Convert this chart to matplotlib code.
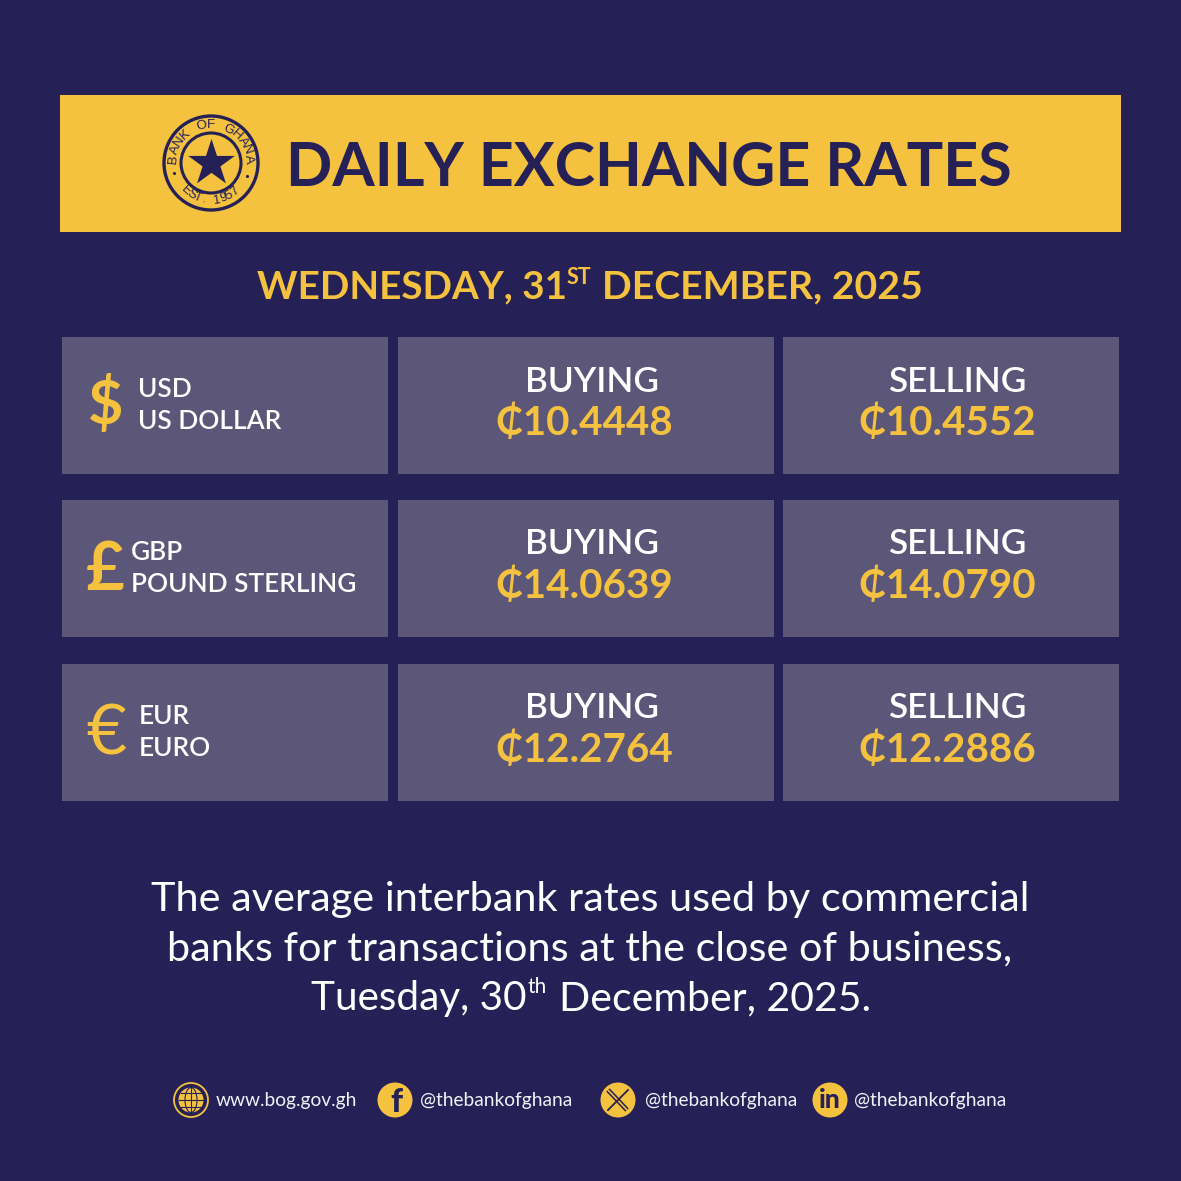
import numpy as np
import matplotlib
matplotlib.use("Agg")
import matplotlib.pyplot as plt
from matplotlib.patches import Rectangle, Circle, Ellipse

BG = "#252157"
YELLOW = "#F4C23F"
PANEL = "#5C5779"
WHITE = "#FFFFFF"
FONT = ["Lato", "DejaVu Sans"]

codes = ["USD", "GBP", "EUR"]
names = ["US DOLLAR", "POUND STERLING", "EURO"]
symbols = ["$", "£", "€"]
buying = ["10.4448", "14.0639", "12.2764"]
selling = ["10.4552", "14.0790", "12.2886"]
handles = ["www.bog.gov.gh", "@thebankofghana", "@thebankofghana", "@thebankofghana"]

row_tops = [337, 500, 664]
symbol_x = [106, 105, 106]
symbol_y = [63, 65, 65]
symbol_size = [44, 48, 50]
symbol_weight = ["bold", "bold", "normal"]
label_x = [138, 131, 139]

fig = plt.figure(figsize=(11.81, 11.81), dpi=100, facecolor=BG)
ax = fig.add_axes([0, 0, 1, 1])
ax.set_xlim(0, 1181)
ax.set_ylim(1181, 0)
ax.axis("off")


def put(x, y, s, size, color=WHITE, weight="normal", ha="left", **kw):
    return ax.text(x, y, s, fontsize=size, color=color, fontweight=weight, ha=ha,
                   va="center_baseline", family=FONT, **kw)


# header band and logo
ax.add_patch(Rectangle((60, 95), 1061, 137, fc=YELLOW, ec="none"))
ax.add_patch(Circle((211, 163), 47, fc="none", ec=BG, lw=2.4))
ax.add_patch(Circle((211, 163), 30, fc="none", ec=BG, lw=2.2))
ax.scatter([211], [163], marker="*", s=1250, color=BG, linewidths=0, zorder=3)
for ch, a in zip("BANK OF GHANA", np.linspace(174, 6, 13)):
    rad = np.deg2rad(a)
    ax.text(211 + 38 * np.cos(rad), 163 - 38 * np.sin(rad), ch, fontsize=9.6, color=BG, ha="center",
            va="center", rotation=a - 90, rotation_mode="anchor", family="Liberation Sans")
for ch, a in zip("EST. 1957", np.linspace(228, 310, 9)):
    rad = np.deg2rad(a)
    ax.text(211 + 37.5 * np.cos(rad), 163 - 37.5 * np.sin(rad), ch, fontsize=9.2, color=BG, ha="center",
            va="center", rotation=a + 90, rotation_mode="anchor", family="Liberation Sans")
for a in (195, 340):
    ax.scatter([211 + 38 * np.cos(np.deg2rad(a))], [163 - 38 * np.sin(np.deg2rad(a))], s=5, color=BG, linewidths=0)

put(286, 162.5, "DAILY EXCHANGE RATES", 43.9, BG, "bold")

# date line
put(257, 283.5, "WEDNESDAY, 31", 27.8, YELLOW, "bold")
put(567, 275, "ST", 15.5, YELLOW, "bold")
put(602.5, 283.5, "DECEMBER, 2025", 28.3, YELLOW, "bold")

# rate rows
for i, top in enumerate(row_tops):
    for left, width in [(62, 326), (398, 376), (783, 336)]:
        ax.add_patch(Rectangle((left, top), width, 137, fc=PANEL, ec="none"))
    put(symbol_x[i], top + symbol_y[i], symbols[i], symbol_size[i], YELLOW, symbol_weight[i], ha="center")
    put(label_x[i], top + 50, codes[i], 18.9, WHITE, "semibold")
    put(label_x[i], top + 82, names[i], 18.9, WHITE, "semibold")
    put(592, top + 41.5, "BUYING", 25.3, WHITE, "semibold", ha="center")
    put(957, top + 41.5, "SELLING", 25.3, WHITE, "semibold", ha="center")
    put(584, top + 83, "₵" + buying[i], 29, YELLOW, "bold", ha="center")
    put(947, top + 83, "₵" + selling[i], 29, YELLOW, "bold", ha="center")

# note
put(590, 895.5, "The average interbank rates used by commercial", 29.8, ha="center")
put(590, 945, "banks for transactions at the close of business,", 29.8, ha="center")
put(311, 995, "Tuesday, 30", 29.2)
put(527.5, 985, "th", 15)
put(559, 995, "December, 2025.", 29.5)

# footer
icon_x = [191, 395, 618, 830]
text_x = [216, 420, 645, 854]
for x, t in zip(text_x, handles):
    put(x, 1099, t, 13.8, "#F1F0F6")

ax.add_patch(Circle((191, 1100), 17, fc="none", ec=YELLOW, lw=1.3))
ax.add_patch(Circle((191, 1100), 12.5, fc=YELLOW, ec="none"))
ax.add_patch(Ellipse((191, 1100), 12, 25, fc="none", ec=BG, lw=0.8))
ax.plot([191, 191], [1088, 1112], color=BG, lw=0.8)
ax.plot([179, 203], [1100, 1100], color=BG, lw=0.8)
ax.plot([181, 201], [1093, 1093], color=BG, lw=0.8)
ax.plot([181, 201], [1107, 1107], color=BG, lw=0.8)

for x in icon_x[1:]:
    ax.add_patch(Circle((x, 1100), 17.5, fc=YELLOW, ec="none"))
ax.text(396, 1102, "f", fontsize=24, color=BG, fontweight="black", ha="center", va="center", family=FONT)
ax.plot([608, 627], [1090, 1110], color=BG, lw=3.4, solid_capstyle="butt")
ax.plot([608, 627], [1090, 1110], color=YELLOW, lw=1.2, solid_capstyle="butt")
ax.plot([628, 608], [1090, 1110], color=BG, lw=1.3)
ax.text(830, 1100, "in", fontsize=19, color=BG, fontweight="black", ha="center", va="center", family=FONT)

fig.savefig("out.png", dpi=100, facecolor=BG)
